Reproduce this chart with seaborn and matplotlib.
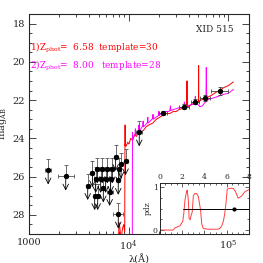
import numpy as np
import seaborn as sns
import matplotlib
matplotlib.use("Agg")
import matplotlib.pyplot as plt
from matplotlib.ticker import FixedLocator, FuncFormatter, MultipleLocator, NullFormatter

# observed photometry: upper limits (lambda [A], mag, half width of band in dex)
ul_lam = [1560, 2340, 3890, 4340, 4570, 4900, 4860, 5450, 5580, 6120, 6460, 6870,
          7410, 7880, 8000, 8410, 9330, 7880, 12800, 4680, 5250, 5890, 6610]
ul_mag = [25.66, 25.98, 26.47, 25.80, 27.0, 27.0, 25.6, 25.6, 26.6, 25.6, 26.78, 25.6,
          24.95, 26.2, 25.62, 25.35, 25.18, 27.96, 23.67, 26.1, 26.1, 26.1, 26.1]
ul_dex = [0.03, 0.08, 0.02, 0.02, 0.02, 0.02, 0.02, 0.02, 0.02, 0.02, 0.03, 0.02,
          0.02, 0.02, 0.02, 0.02, 0.02, 0.05, 0.03, 0.02, 0.02, 0.02, 0.02]

# detections
det_lam = [22030, 35730, 46770, 58880, 81850]
det_mag = [22.68, 22.34, 22.08, 21.90, 21.52]
det_err = [0.12, 0.12, 0.12, 0.15, 0.2]
det_dex = [0.04, 0.05, 0.04, 0.05, 0.09]

# best-fit template, z=6.58
red_lam = [7000, 7900, 8000, 8150, 8400, 8700, 8950, 9150, 9200, 9230, 9260, 9300, 9500,
           9800, 10100, 10500, 11000, 11500, 12000, 12500, 13000, 14000, 15000, 16000,
           17500, 19000, 20500, 22000, 24000, 26000, 28000, 30000, 32000, 34000, 36000,
           38000, 38400, 38600, 38800, 41000, 44000, 47000, 49500, 50300, 50500, 50700,
           53000, 57000, 62000, 68000, 75000, 82000, 90000, 100000, 113000]
red_mag = [30, 30, 28.4, 28.6, 29.3, 28.7, 28.5, 28.9, 24.5, 23.3, 24.4, 24.3, 24.4,
           24.2, 24.3, 24.0, 24.1, 23.8, 23.9, 23.7, 23.7, 23.6, 23.4, 23.3,
           23.2, 23.0, 22.9, 22.8, 22.7, 22.7, 22.6, 22.6, 22.5, 22.45, 22.4,
           22.35, 22.4, 21.0, 22.4, 22.3, 22.2, 22.15, 22.1, 22.1, 20.2, 22.1,
           22.0, 21.95, 21.85, 21.75, 21.6, 21.5, 21.35, 21.25, 21.05]

# second solution, z=8.00
mag_lam = [10800, 10900, 10950, 11000, 11300, 11600, 11700, 11800, 12200, 12600, 12700,
           12800, 13300, 13900, 14000, 14100, 14800, 15500, 15600, 15700, 16500, 17500,
           17600, 17700, 18800, 20000, 20100, 20200, 21500, 23000, 25000, 26000, 26300,
           26600, 28000, 30000, 32000, 34000, 36000, 36300, 36600, 39000, 42000, 45000,
           46500, 46800, 47100, 49000, 52000, 55000, 59000, 59700, 60300, 60900, 64000,
           70000, 80000, 90000, 100000, 113000]
mag_mag = [30, 30, 23.7, 24.0, 23.9, 23.8, 23.5, 23.8, 23.7, 23.55, 23.3,
           23.6, 23.5, 23.35, 23.1, 23.4, 23.3, 23.15, 22.9, 23.2, 23.1, 22.95,
           22.75, 23.0, 22.9, 22.8, 22.6, 22.8, 22.7, 22.6, 22.6, 22.55, 22.3,
           22.55, 22.5, 22.45, 22.4, 22.4, 22.4, 22.1, 22.4, 22.3, 22.25, 22.2,
           22.15, 21.8, 22.15, 22.2, 22.35, 22.3, 22.1, 22.1, 20.3, 22.05, 21.95,
           21.9, 21.8, 21.7, 21.65, 21.45]

# redshift probability distribution
pdz_z = [0, 1.2, 1.35, 1.8, 2.05, 2.15, 2.25, 2.39, 2.45, 2.55, 2.62, 2.72, 2.8, 2.9,
         3.0, 3.14, 3.29, 3.45, 3.65, 3.75, 3.88, 4.3, 5.2, 5.38, 5.55, 5.68, 5.8, 5.9,
         5.98, 6.04, 6.22, 6.58, 6.79, 7.02, 7.33, 7.62, 7.92, 8.0]
pdz_p = [0, 0.0, 0.05, 0.1, 0.2, 0.4, 0.7, 0.89, 0.93, 0.7, 0.27, 0.24, 0.34, 0.42,
         0.8, 0.85, 0.85, 0.78, 0.46, 0.15, 0.04, 0.02, 0.02, 0.04, 0.1, 0.19, 0.35, 0.55,
         0.77, 0.95, 0.97, 0.97, 0.89, 0.74, 0.79, 0.89, 0.93, 0.94]
zphot = 6.66

sns.set_style("ticks")
plt.rcParams['font.family'] = ['DejaVu Serif']
plt.rcParams['mathtext.fontset'] = 'dejavuserif'

fig = plt.figure(figsize=(2.63, 2.63), dpi=100)
ax = fig.add_axes([0.110, 0.110, 0.837, 0.837])

sns.lineplot(x=red_lam, y=red_mag, sort=False, estimator=None, color='#ff0000',
             lw=0.7, ax=ax, zorder=3)
sns.lineplot(x=mag_lam, y=mag_mag, sort=False, estimator=None, color='#ff00ff',
             lw=0.7, ax=ax, zorder=3)

# upper limits
for lam, m, d in zip(ul_lam, ul_mag, ul_dex):
    ax.errorbar(lam, m, xerr=[[lam - lam * 10 ** -d], [lam * 10 ** d - lam]],
                yerr=[[0.6], [0]], fmt='none', ecolor='#555555', elinewidth=0.6,
                capsize=1.2, capthick=0.6, zorder=4)
    ax.annotate('', xy=(lam, m + 0.75), xytext=(lam, m),
                arrowprops=dict(arrowstyle='->', color='k', lw=0.6,
                                mutation_scale=10, shrinkA=0, shrinkB=0), zorder=4)
sns.scatterplot(x=ul_lam, y=ul_mag, color='k', s=15, edgecolor='k', linewidth=0,
                ax=ax, zorder=5)

# detections
for lam, m, e, d in zip(det_lam, det_mag, det_err, det_dex):
    ax.errorbar(lam, m, xerr=[[lam - lam * 10 ** -d], [lam * 10 ** d - lam]],
                yerr=e, fmt='none', ecolor='#444444', elinewidth=0.6,
                capsize=1.5, capthick=0.6, zorder=4)
sns.scatterplot(x=det_lam, y=det_mag, color='k', s=15, edgecolor='k', linewidth=0,
                ax=ax, zorder=5)

ax.set_xscale('log')
ax.set_xlim(1000, 1.62e5)
ax.set_ylim(29, 17.5)
ax.xaxis.set_major_locator(FixedLocator([1e3, 1e4, 1e5]))
ax.xaxis.set_major_formatter(FuncFormatter(
    lambda v, p: '1000' if v < 2000 else r'$10^{%d}$' % round(np.log10(v))))
ax.xaxis.set_minor_formatter(NullFormatter())
ax.yaxis.set_major_locator(MultipleLocator(2))
ax.yaxis.set_minor_locator(MultipleLocator(0.5))
ax.tick_params(which='both', direction='in', top=True, right=True, labelsize=7,
               width=0.6, pad=3)
ax.tick_params(which='major', length=5)
ax.tick_params(which='minor', length=2.5)
for s in ax.spines.values():
    s.set_linewidth(0.8)
ax.set_xlabel('λ(Å)', fontsize=7, labelpad=1)
ax.set_ylabel(r'mag$_{\rm AB}$', fontsize=7, labelpad=2)

ax.text(0.93, 0.93, 'XID 515', transform=ax.transAxes, ha='right', va='center',
        fontsize=6.5)
ax.text(0.005, 0.845, r'1)Z$_{\rm phot}$=  6.58  template=30', transform=ax.transAxes,
        ha='left', va='center', fontsize=6.4, color='#ff0000')
ax.text(0.005, 0.765, r'2)Z$_{\rm phot}$=  8.00   template=28', transform=ax.transAxes,
        ha='left', va='center', fontsize=6.4, color='#ff00ff')

# inset with pdz
axi = fig.add_axes([0.608, 0.110, 0.339, 0.194])
sns.lineplot(x=pdz_z, y=pdz_p, sort=False, estimator=None, color='#ff4040', lw=0.7,
             ax=axi)
axi.plot([2.05, 8.0], [0.5, 0.5], color='k', lw=0.7)
axi.plot([zphot], [0.5], 'o', color='k', ms=2)
axi.set_xlim(0, 8)
axi.set_ylim(-0.093, 1.093)
axi.xaxis.set_major_locator(MultipleLocator(2))
axi.xaxis.set_minor_locator(MultipleLocator(0.5))
axi.yaxis.set_major_locator(FixedLocator([0, 1]))
axi.yaxis.set_minor_locator(MultipleLocator(0.25))
axi.tick_params(which='both', direction='in', top=True, right=True, bottom=True,
                labeltop=True, labelbottom=False, labelsize=5.5, width=0.5, pad=1.5)
axi.tick_params(which='major', length=3)
axi.tick_params(which='minor', length=1.5)
for s in axi.spines.values():
    s.set_linewidth(0.7)
axi.set_ylabel('pdz', fontsize=5.5, labelpad=1)

fig.savefig('out.png', dpi=100)
